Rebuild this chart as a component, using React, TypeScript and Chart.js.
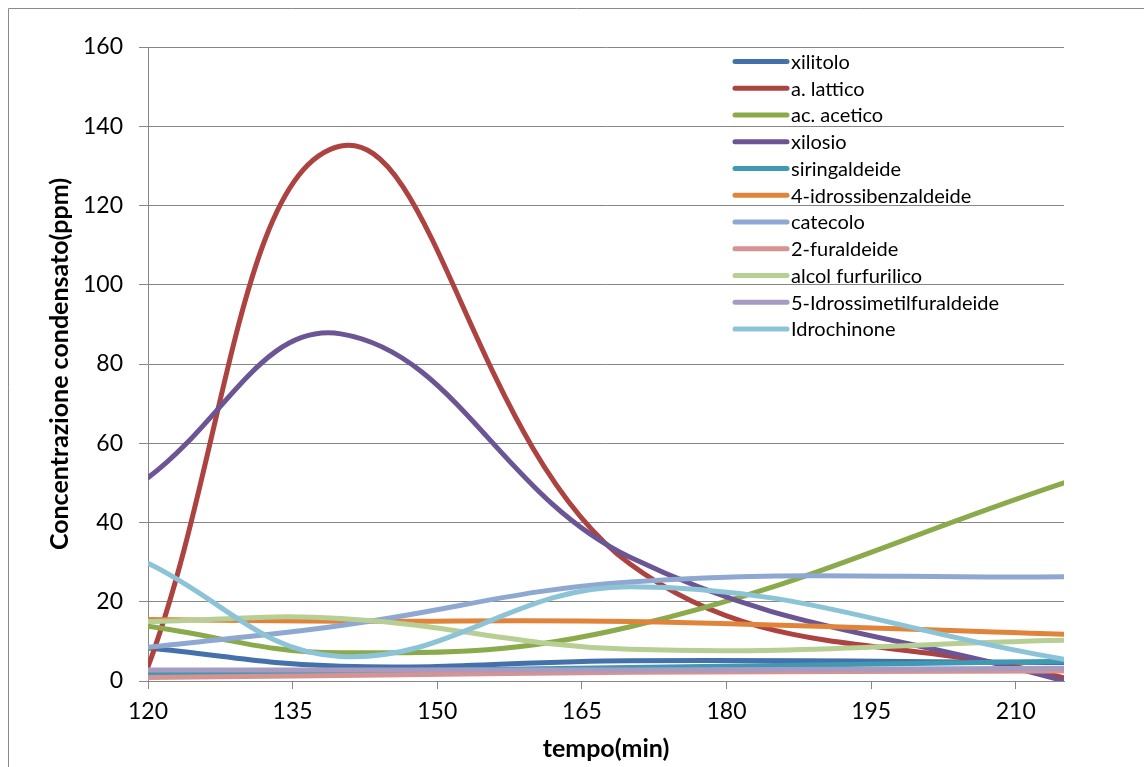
import React, { useEffect, useRef } from "react";
import { Chart, registerables } from "chart.js";

Chart.register(...registerables);

// ---- data ----
const times = [120, 140, 170, 215];
const seriesNames = [
  "xilitolo",
  "a. lattico",
  "ac. acetico",
  "xilosio",
  "siringaldeide",
  "4-idrossibenzaldeide",
  "catecolo",
  "2-furaldeide",
  "alcol furfurilico",
  "5-Idrossimetilfuraldeide",
  "Idrochinone",
];
const xilitolo = [8.3, 3.7, 5.1, 4.7];
const aLattico = [3.6, 135, 29.5, 0.8];
const acAcetico = [13.8, 7.1, 13.7, 50];
const xilosio = [51.3, 87.6, 31.2, 0];
const siringaldeide = [1.9, 2.4, 3.4, 5.0];
const idrossibenzaldeide = [15.5, 15.1, 15.0, 11.8];
const catecolo = [8.5, 14.0, 25.0, 26.3];
const furaldeide = [0.9, 1.4, 2.2, 2.5];
const alcolFurfurilico = [15.0, 15.8, 8.0, 10.3];
const idrossimetilfuraldeide = [2.8, 2.8, 2.8, 3.2];
const idrochinone = [29.7, 6.2, 23.8, 5.5];

const seriesValues = [
  xilitolo,
  aLattico,
  acAcetico,
  xilosio,
  siringaldeide,
  idrossibenzaldeide,
  catecolo,
  furaldeide,
  alcolFurfurilico,
  idrossimetilfuraldeide,
  idrochinone,
];
const seriesColors = [
  "#4471AA",
  "#AC4340",
  "#8AAA4B",
  "#6C5594",
  "#3F99B3",
  "#E0843C",
  "#8FA8D1",
  "#D59391",
  "#B7CE95",
  "#A79BC1",
  "#8CC3D6",
];

const xTitle = "tempo(min)";
const yTitle = "Concentrazione condensato(ppm)";
const FONT = "Lato";

const W = 1144;
const H = 767;
const AREA = { left: 148, top: 47, right: 1064, bottom: 681 };

const framePlugin = {
  id: "frame",
  beforeDraw(chart: any) {
    const ctx = chart.ctx;
    ctx.save();
    ctx.fillStyle = "#ffffff";
    ctx.fillRect(0, 0, W, H);
    ctx.strokeStyle = "#8a8a8a";
    ctx.lineWidth = 1;
    ctx.beginPath();
    ctx.moveTo(8.5, H);
    ctx.lineTo(8.5, 8.5);
    ctx.lineTo(W, 8.5);
    ctx.stroke();
    ctx.restore();
  },
  afterDraw(chart: any) {
    const ctx = chart.ctx;
    const area = chart.chartArea;
    ctx.save();
    // axis titles
    ctx.fillStyle = "#000";
    ctx.font = `bold 25px ${FONT}`;
    ctx.textAlign = "center";
    ctx.textBaseline = "middle";
    ctx.fillText(xTitle, (area.left + area.right) / 2, 749);
    ctx.translate(60, (area.top + area.bottom) / 2);
    ctx.rotate(-Math.PI / 2);
    ctx.fillText(yTitle, 0, 0);
    ctx.restore();

    // legend
    ctx.save();
    const x0 = 735;
    const x1 = 787;
    const y0 = 61.5;
    const dy = 26.75;
    ctx.font = `20px ${FONT}`;
    ctx.textAlign = "left";
    ctx.textBaseline = "middle";
    chart.data.datasets.forEach((ds: any, i: number) => {
      const y = y0 + i * dy;
      ctx.strokeStyle = ds.borderColor;
      ctx.lineWidth = 5;
      ctx.lineCap = "round";
      ctx.beginPath();
      ctx.moveTo(x0, y);
      ctx.lineTo(x1, y);
      ctx.stroke();
      ctx.fillStyle = "#000";
      ctx.fillText(ds.label, 791, y + 1);
    });
    ctx.restore();
  },
};

export default function App() {
  const ref = useRef<HTMLCanvasElement | null>(null);

  useEffect(() => {
    const canvas = ref.current;
    if (!canvas) return;
    const n = seriesNames.length;
    const chart = new Chart(canvas, {
      type: "line",
      data: {
        datasets: seriesNames.map((name, i) => ({
          label: name,
          data: times.map((t, j) => ({ x: t, y: seriesValues[i][j] })),
          borderColor: seriesColors[i],
          backgroundColor: seriesColors[i],
          borderWidth: 5,
          pointRadius: 0,
          tension: 0.4,
          fill: false,
          order: n - i,
          borderCapStyle: "round",
          borderJoinStyle: "round",
        })),
      },
      options: {
        animation: false,
        responsive: false,
        maintainAspectRatio: false,
        layout: {
          padding: { left: 0, top: AREA.top, right: W - AREA.right, bottom: 0 },
        },
        plugins: {
          legend: { display: false },
          tooltip: { enabled: false },
          title: { display: false },
        },
        scales: {
          x: {
            type: "linear",
            min: 120,
            max: 215,
            afterFit(scale: any) {
              scale.height = H - AREA.bottom;
            },
            afterBuildTicks(scale: any) {
              scale.ticks = [120, 135, 150, 165, 180, 195, 210].map((v) => ({ value: v }));
            },
            ticks: {
              stepSize: 15,
              color: "#000",
              font: { family: FONT, size: 23 },
              padding: 9,
              maxRotation: 0,
            },
            grid: {
              display: true,
              drawOnChartArea: false,
              drawTicks: true,
              tickLength: 8,
              color: "#868686",
              lineWidth: 1,
            },
            border: { display: true, color: "#868686", width: 1 },
          },
          y: {
            type: "linear",
            min: 0,
            max: 160,
            afterFit(scale: any) {
              scale.width = AREA.left;
            },
            ticks: {
              stepSize: 20,
              color: "#000",
              font: { family: FONT, size: 23 },
              padding: 16,
            },
            grid: {
              display: true,
              drawOnChartArea: true,
              drawTicks: true,
              tickLength: 9,
              color: "#868686",
              lineWidth: 1,
            },
            border: { display: true, color: "#868686", width: 1 },
          },
        },
      },
      plugins: [framePlugin],
    });
    return () => chart.destroy();
  }, []);

  return (
    <div style={{ position: "fixed", left: 0, top: 0, width: W, height: H, overflow: "hidden", background: "#fff" }}>
      <canvas ref={ref} width={W} height={H} style={{ display: "block", width: W, height: H }} />
    </div>
  );
}
